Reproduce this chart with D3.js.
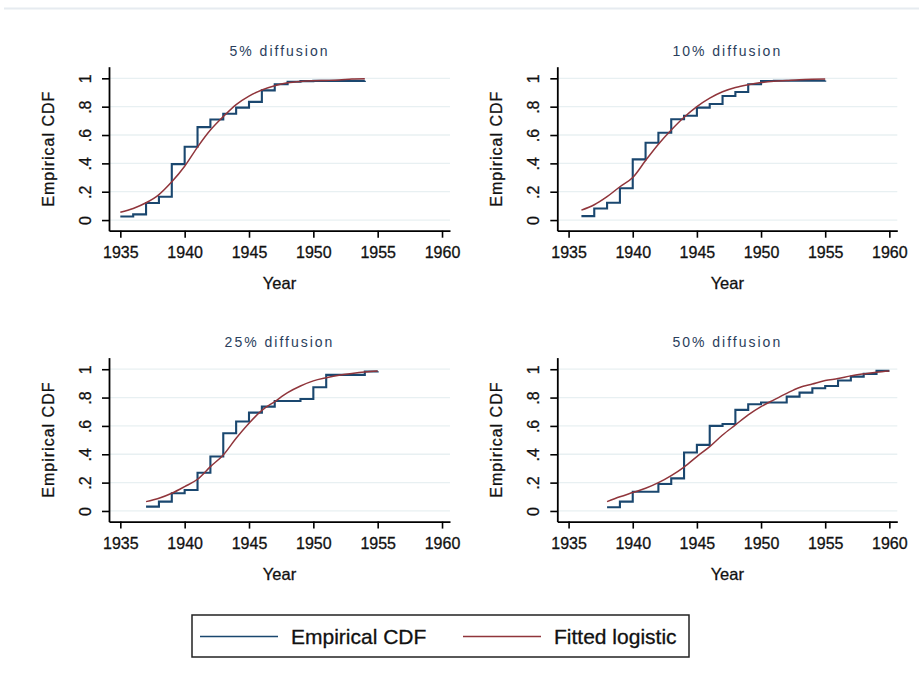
<!DOCTYPE html>
<html>
<head>
<meta charset="utf-8">
<script src="https://cdn.jsdelivr.net/npm/d3@7/dist/d3.min.js"></script>
<style>
  body { margin: 0; background: #fff; }
  svg { display: block; font-family: "Liberation Sans", Arial, sans-serif; }
  svg text { stroke-width: 0.3; }
</style>
</head>
<body>
<svg id="chart" width="919" height="673"></svg>
<script>
// panel titles and first year of each series
var titles = ['5% diffusion', '10% diffusion', '25% diffusion', '50% diffusion'];
var startYears = [1935, 1936, 1937, 1938];

// empirical CDF, one value per year
var empirical5  = [.025, .04, .12, .165, .395, .517, .656, .71, .75, .793, .834, .915, .958, .976, .98, .982, .982, .982, .982, .983];
var empirical10 = [.028, .082, .122, .224, .428, .546, .616, .711, .736, .793, .819, .875, .904, .958, .981, .983, .983, .983, .983, .985];
var empirical25 = [.031, .066, .125, .148, .27, .384, .548, .631, .694, .736, .776, .776, .79, .873, .96, .96, .96, .984, .985];
var empirical50 = [.026, .066, .136, .136, .19, .23, .412, .466, .6, .614, .713, .753, .765, .765, .807, .835, .866, .882, .92, .948, .967, .988, .988];

// fitted logistic, read at each year
var fitted5  = [.055, .082, .122, .18, .27, .38, .515, .635, .73, .815, .875, .918, .948, .968, .978, .983, .985, .988, .995, .997];
var fitted10 = [.07, .108, .165, .235, .30, .42, .535, .635, .725, .80, .86, .905, .935, .955, .97, .98, .985, .99, .993, .995];
var fitted25 = [.066, .09, .125, .172, .224, .313, .395, .513, .619, .71, .772, .835, .882, .918, .94, .958, .97, .98, .987];
var fitted50 = [.066, .1, .13, .16, .2, .25, .31, .384, .454, .536, .607, .678, .736, .784, .83, .871, .896, .92, .934, .953, .967, .979, .988];

var xTicks = [1935, 1940, 1945, 1950, 1955, 1960];
var yTicks = [0, .2, .4, .6, .8, 1];

var empiricalSeries = [empirical5, empirical10, empirical25, empirical50];
var fittedSeries = [fitted5, fitted10, fitted25, fitted50];

var blue = '#1a476f', red = '#90353b';

var svg = d3.select('#chart');
svg.append('rect').attr('width', 919).attr('height', 673).attr('fill', '#fff');
svg.append('line').attr('x1', 4).attr('x2', 919).attr('y1', 8.5).attr('y2', 8.5)
    .attr('stroke', '#e6ebf0').attr('stroke-width', 2);

var boxes = [
    {left: 109, right: 450, top: 66.7, bottom: 230.7},
    {left: 557.3, right: 897.3, top: 66.7, bottom: 230.7},
    {left: 109, right: 450, top: 357.6, bottom: 521.6},
    {left: 557.3, right: 897.3, top: 357.6, bottom: 521.6}
];

function yFormat(d) {
    if (d === 0) return '0';
    if (d === 1) return '1';
    return d3.format('.1f')(d).replace('0.', '.');
}

boxes.forEach(function(b, p) {
    var x = d3.scaleLinear().domain([1934.12, 1960.62]).range([b.left, b.right]);
    var y = d3.scaleLinear().domain([-0.075, 1.082]).range([b.bottom, b.top]);
    var g = svg.append('g');

    // grid
    g.selectAll('.grid').data(yTicks).enter().append('line')
        .attr('x1', b.left).attr('x2', b.right)
        .attr('y1', function(d) { return y(d); })
        .attr('y2', function(d) { return y(d); })
        .attr('stroke', '#e8f0f2').attr('stroke-width', 1.3);

    var pts = function(arr) {
        return arr.map(function(v, i) { return [startYears[p] + i, v]; });
    };

    var step = d3.line()
        .x(function(d) { return x(d[0]); })
        .y(function(d) { return y(d[1]); })
        .curve(d3.curveStepAfter);
    var smooth = d3.line()
        .x(function(d) { return x(d[0]); })
        .y(function(d) { return y(d[1]); })
        .curve(d3.curveMonotoneX);

    g.append('path').attr('d', step(pts(empiricalSeries[p])))
        .attr('fill', 'none').attr('stroke', blue).attr('stroke-width', 2.1);
    g.append('path').attr('d', smooth(pts(fittedSeries[p])))
        .attr('fill', 'none').attr('stroke', red).attr('stroke-width', 1.5);

    // axes
    var xa = g.append('g').attr('transform', 'translate(0,' + b.bottom + ')')
        .call(d3.axisBottom(x).tickValues(xTicks).tickSize(7).tickSizeOuter(0).tickFormat(d3.format('d')));
    xa.selectAll('text').attr('y', 27).attr('dy', null)
        .attr('font-size', 16).attr('fill', '#111').attr('stroke', '#111');

    var ya = g.append('g').attr('transform', 'translate(' + b.left + ',0)')
        .call(d3.axisLeft(y).tickValues(yTicks).tickSize(7).tickSizeOuter(0).tickFormat(yFormat));
    ya.selectAll('text').attr('x', null).attr('dy', null)
        .attr('text-anchor', 'middle')
        .attr('transform', 'translate(-18,0) rotate(-90)')
        .attr('font-size', 16).attr('fill', '#111').attr('stroke', '#111');

    [xa, ya].forEach(function(a) {
        a.select('.domain').attr('stroke', '#000').attr('stroke-width', 1.8);
        a.selectAll('.tick line').attr('stroke', '#000').attr('stroke-width', 1.6);
    });

    var cx = (b.left + b.right) / 2, cy = (b.top + b.bottom) / 2;
    g.append('text').attr('x', cx).attr('y', b.top - 11)
        .attr('text-anchor', 'middle').attr('font-size', 14)
        .attr('letter-spacing', 2).attr('fill', '#2a3e5c').text(titles[p]);
    g.append('text').attr('x', cx).attr('y', b.bottom + 58)
        .attr('text-anchor', 'middle').attr('font-size', 16.5)
        .attr('fill', '#111').attr('stroke', '#111').text('Year');
    g.append('text')
        .attr('transform', 'translate(' + (b.left - 55) + ',' + cy + ') rotate(-90)')
        .attr('text-anchor', 'middle').attr('font-size', 16)
        .attr('letter-spacing', 1).attr('fill', '#111').attr('stroke', '#111').text('Empirical CDF');
});

// legend
var lg = svg.append('g');
lg.append('rect').attr('x', 192).attr('y', 615).attr('width', 497).attr('height', 42)
    .attr('fill', '#fff').attr('stroke', '#222').attr('stroke-width', 1.5);
var items = [
    {label: 'Empirical CDF', color: blue, x: 200},
    {label: 'Fitted logistic', color: red, x: 463}
];
items.forEach(function(it) {
    lg.append('line').attr('x1', it.x).attr('x2', it.x + 78)
        .attr('y1', 636.5).attr('y2', 636.5)
        .attr('stroke', it.color).attr('stroke-width', 1.3);
    lg.append('text').attr('x', it.x + 91).attr('y', 644)
        .attr('font-size', 21).attr('fill', '#111').attr('stroke', '#111').text(it.label);
});
</script>
</body>
</html>
